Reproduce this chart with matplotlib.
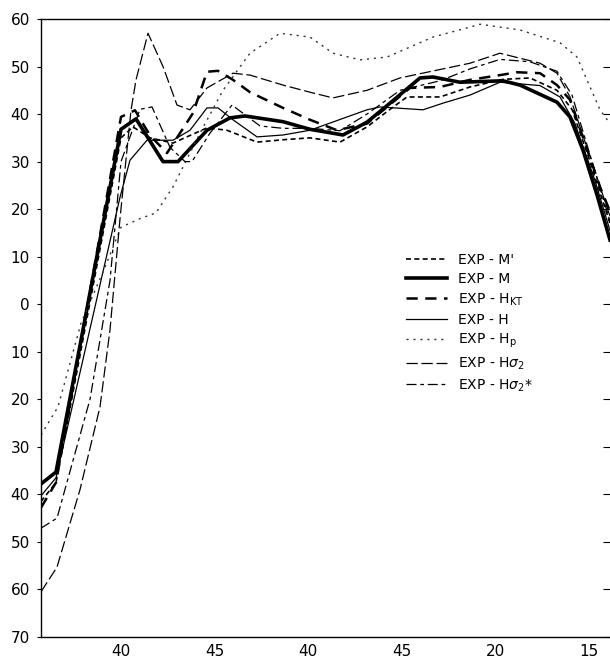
import matplotlib
matplotlib.use("Agg")
import matplotlib.pyplot as plt
import numpy as np

# x positions are in tick units (tick labels at 0..5)
xtick_pos = [0, 1, 2, 3, 4, 5]
xtick_labels = ["40", "45", "40", "45", "20", "15"]
ytick_vals = [60, 50, 40, 30, 20, 10, 0, -10, -20, -30, -40, -50, -60, -70]
ytick_labels = [str(abs(v)) for v in ytick_vals]

def px(v):
    return [(p - 121) / 93.6 for p in v]

# EXP - M' (short dashes)
mp_x = px([41, 56, 121, 133, 150, 173, 207, 227, 257, 283, 310, 340, 367, 390, 407, 440, 470, 503, 530, 557, 572, 590, 610])
mp_y = [-41.5, -37.5, 35, 37.3, 35, 33.9, 37.1, 36.6, 34.1, 34.6, 35, 34.1, 37.3, 41, 43.6, 43.6, 45.7, 47.3, 47.6, 45, 41, 30, 17]

# EXP - M (thick solid)
m_x = px([41, 56, 121, 136, 163, 178, 207, 230, 245, 283, 310, 343, 367, 390, 420, 433, 460, 503, 520, 557, 570, 583, 597, 610])
m_y = [-37.8, -35.3, 36.8, 39, 30, 30, 36.6, 39.2, 39.6, 38.4, 36.8, 35.6, 38.3, 42.3, 47.6, 47.8, 46.7, 47, 46.1, 42.5, 39.4, 32.4, 23, 13.5]

# EXP - H_KT (heavy dashes)
hkt_x = px([41, 56, 121, 135, 150, 167, 193, 207, 218, 233, 250, 283, 310, 337, 367, 390, 410, 440, 470, 503, 517, 540, 557, 570, 600, 610])
hkt_y = [-42.8, -37.5, 39.4, 40.8, 35.5, 31.8, 40.2, 48.9, 49.1, 47.2, 44.6, 41.3, 38.8, 36.6, 38, 42, 45.5, 45.7, 47.2, 48.3, 48.8, 48.6, 46.1, 43, 24.7, 19.5]

# EXP - H (thin solid)
h_x = px([41, 56, 120, 130, 147, 173, 190, 207, 218, 233, 257, 283, 310, 367, 380, 423, 443, 470, 500, 540, 560, 575, 595, 610])
h_y = [-40.3, -36.5, 22.5, 30.3, 34.5, 34.5, 36.6, 41.3, 41.3, 38.8, 35.2, 35.6, 36.6, 40.9, 41.5, 40.9, 42.3, 44, 46.7, 46, 43.6, 38, 26, 15.5]

# EXP - Hp (dotted)
hp_x = px([41, 58, 81, 105, 121, 141, 156, 173, 200, 223, 250, 280, 310, 333, 360, 387, 433, 470, 480, 520, 560, 577, 600, 610])
hp_y = [-27.5, -21.6, -4, 7.8, 16.2, 18.1, 19.2, 24.7, 36, 45, 52.8, 57, 56.2, 52.8, 51.4, 52, 56.2, 58.3, 58.9, 57.7, 55, 52, 40.9, 38]

# EXP - H sigma2 (long dashes)
hs_x = px([41, 57, 80, 100, 110, 120, 131, 136, 148, 163, 177, 190, 207, 233, 250, 283, 310, 333, 367, 400, 427, 470, 500, 540, 557, 570, 610])
hs_y = [-60.5, -55.3, -39, -21.6, -5.4, 18, 40.8, 47.2, 57, 50, 41.9, 40.9, 45.5, 48.6, 48.2, 46.1, 44.6, 43.4, 45, 47.6, 48.8, 50.7, 52.8, 50.7, 48.6, 43.6, 18.5]

# EXP - H sigma2* (dash-dot like)
hss_x = px([41, 57, 90, 110, 121, 140, 152, 170, 185, 192, 210, 232, 260, 283, 310, 340, 367, 400, 440, 470, 500, 530, 557, 572, 610])
hss_y = [-47.1, -45, -20, 5, 30, 41, 41.5, 33, 30, 30, 36, 41.9, 37.5, 37, 37, 36.5, 40, 45, 47, 49.5, 51.5, 51, 49, 44, 17.5]

fig = plt.figure(figsize=(6.10, 6.58), dpi=100)
ax = fig.add_axes([41 / 610, 1 - 637 / 658, (614 - 41) / 610, (637 - 19) / 658])

k = "black"
l1, = ax.plot(mp_x, mp_y, color=k, lw=1.2, ls=(0, (3, 2)))
l2, = ax.plot(m_x, m_y, color=k, lw=2.6, ls="-")
l3, = ax.plot(hkt_x, hkt_y, color=k, lw=1.8, ls=(0, (4.5, 3)))
l4, = ax.plot(h_x, h_y, color=k, lw=0.9, ls="-")
l5, = ax.plot(hp_x, hp_y, color="#333333", lw=1.0, ls=(0, (1.5, 3.5)))
l6, = ax.plot(hs_x, hs_y, color=k, lw=0.9, ls=(0, (9, 3)))
l7, = ax.plot(hss_x, hss_y, color=k, lw=0.9, ls=(0, (8, 3, 3, 3)))

ax.set_xlim(-80 / 93.6, (614 - 121) / 93.6)
ax.set_ylim(-70, 60)
ax.set_xticks(xtick_pos)
ax.set_xticklabels(xtick_labels)
ax.set_yticks(ytick_vals)
ax.set_yticklabels(ytick_labels)
for lab in ax.get_xticklabels() + ax.get_yticklabels():
    lab.set_fontsize(11)
ax.tick_params(axis="x", length=0, pad=5)
ax.tick_params(axis="y", which="both", direction="out", length=3, pad=5,
               right=True, labelright=False)
for t in ax.yaxis.get_major_ticks():
    t.tick2line.set_markersize(8)
    t.tick2line.set_marker(matplotlib.lines.TICKLEFT)
ax.spines["right"].set_visible(False)
for s in ax.spines.values():
    s.set_linewidth(1.0)

labels = ["EXP - M'", "EXP - M", "EXP - H$_{\\mathrm{KT}}$", "EXP - H",
          "EXP - H$_{\\mathrm{p}}$", "EXP - H$\\sigma_2$", "EXP - H$\\sigma_2$*"]
leg = ax.legend([l1, l2, l3, l4, l5, l6, l7], labels, frameon=False,
                loc="upper left", bbox_to_anchor=((400 - 41) / 573, 1 - (247 - 19) / 618),
                fontsize=10, handlelength=3.0, handletextpad=0.8, labelspacing=0.38,
                borderaxespad=0)

fig.savefig("out.png", dpi=100)
